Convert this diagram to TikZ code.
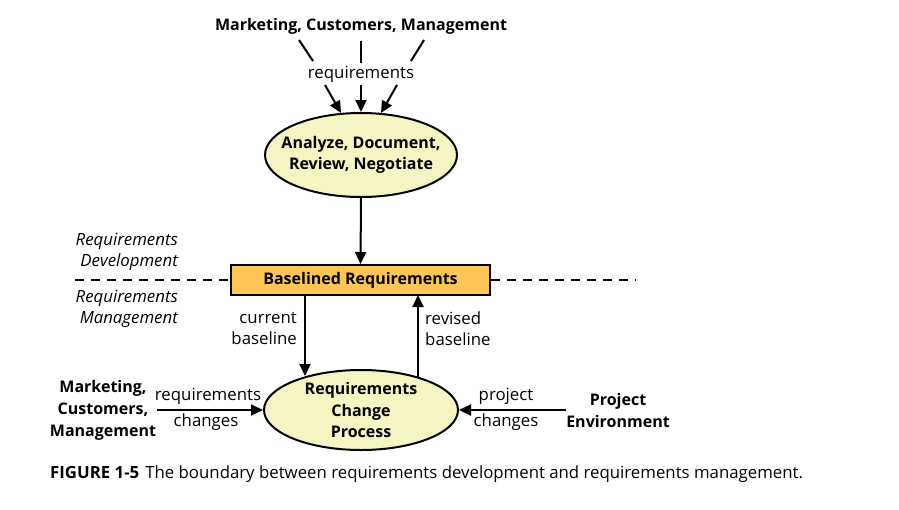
\documentclass[tikz,border=0pt]{standalone}
\usepackage{fontspec}
\setmainfont{Open Sans}
\usetikzlibrary{arrows.meta,shapes.geometric}
\definecolor{ellfill}{HTML}{F5F5C3}
\definecolor{boxfill}{HTML}{FFC655}
\tikzset{
  lbl/.style={inner sep=0pt, font=\fontsize{16.8}{21}\selectfont},
  blbl/.style={inner sep=0pt, font=\fontsize{16}{22}\bfseries\selectfont, align=center},
  ilbl/.style={inner sep=0pt, font=\fontsize{16.8}{21.5}\itshape\selectfont, align=right},
  proc/.style={ellipse, draw, line width=2pt, fill=ellfill, minimum width=192pt, minimum height=84pt, inner sep=0pt, align=center, font=\fontsize{16}{21.5}\bfseries\selectfont},
  arr/.style={line width=2pt, -{Triangle[length=12pt,width=11pt]}},
  ln/.style={line width=2pt},
}
\begin{document}
\begin{tikzpicture}[x=1pt,y=-1pt]
\useasboundingbox[fill=white] (0,0) rectangle (899,509);
% top
\node[blbl] (src) at (361,26) {Marketing, Customers, Management};
\node[lbl] (req) at (361,74) {requirements};
\coordinate (t1a) at (299,40); \coordinate (t1b) at (313,61);
\coordinate (t2a) at (361,41); \coordinate (t2b) at (361,63);
\coordinate (t3a) at (424,40); \coordinate (t3b) at (411,61);
\draw[ln] (t1a) -- (t1b);
\draw[ln] (t2a) -- (t2b);
\draw[ln] (t3a) -- (t3b);
\coordinate (a1) at (325,85); \coordinate (a2) at (361,85); \coordinate (a3) at (397,85);
\coordinate (e1) at (341,113); \coordinate (e3) at (381,113);
\node[proc, inner xsep=-13pt] (adr) at (361,155) {Analyze, Document,\\Review, Negotiate};
\draw[arr] (a1) -- (e1);
\draw[arr] (a2) -- (adr.north);
\draw[arr] (a3) -- (e3);
% baseline box
\node[draw, line width=2pt, fill=boxfill, minimum width=259pt, minimum height=30pt, inner sep=0pt, font=\fontsize{16}{19}\bfseries\selectfont] (base) at (360.5,280) {Baselined Requirements};
\draw[arr] (adr.south) -- (base.north);
\coordinate (dl1) at (75,280); \coordinate (dr1) at (636,280);
\draw[ln, dash pattern=on 9pt off 7pt] (dl1) -- (base.west);
\draw[ln, dash pattern=on 9pt off 7pt] (base.east) -- (dr1);
\node[ilbl, anchor=east] (rd) at (178,252) {Requirements\\Development};
\node[ilbl, anchor=east] (rm) at (178,309) {Requirements\\Management};
% change process
\node[proc, minimum width=194pt, minimum height=80pt, inner ysep=-6pt] (rcp) at (361,410) {Requirements\\Change\\Process};
\coordinate (dnS) at (305,295); \coordinate (dnE) at (305,376);
\coordinate (upS) at (418,377); \coordinate (upE) at (418,295);
\draw[arr] (dnS) -- (dnE);
\draw[arr] (upS) -- (upE);
\node[lbl, align=right, anchor=east, font=\fontsize{16.8}{21}\selectfont] (cb) at (297,329) {current\\baseline};
\node[lbl, align=left, anchor=west, font=\fontsize{16.8}{21}\selectfont] (rb) at (425,329) {revised\\baseline};
% left input
\node[blbl, align=center] (src2) at (103,410) {Marketing,\\Customers,\\Management};
\coordinate (lS) at (157,410);
\draw[arr] (lS) -- (rcp.west);
\node[lbl] (rc1) at (208,396) {requirements};
\node[lbl] (rc2) at (206,422) {changes};
% right input
\node[blbl] (pe) at (618,410) {Project\\Environment};
\coordinate (rS) at (566,410);
\draw[arr] (rS) -- (rcp.east);
\node[lbl] (pc1) at (506,396) {project};
\node[lbl] (pc2) at (506,422) {changes};
% caption
\node[inner sep=0pt, anchor=west, font=\fontsize{16.8}{20}\selectfont] (cap) at (50,474) {\textbf{FIGURE 1-5}\hspace{6pt}The boundary between requirements development and requirements management.};
\end{tikzpicture}
\end{document}
